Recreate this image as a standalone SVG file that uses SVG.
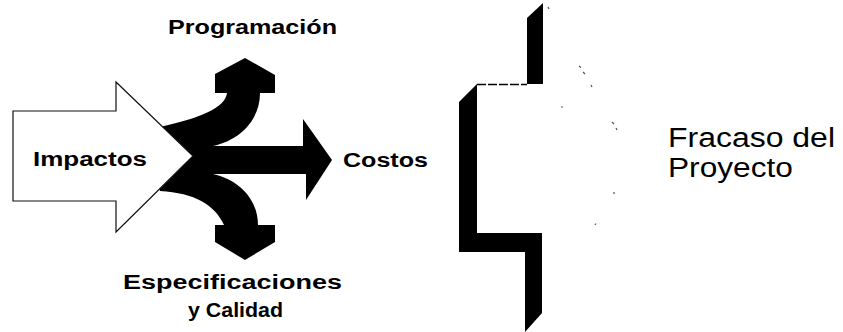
<svg xmlns="http://www.w3.org/2000/svg" width="843" height="332" viewBox="0 0 843 332">
  <style>
    .lbl { font-family: "Liberation Sans", Arial, sans-serif; font-weight: bold; font-size: 20px; fill: #000; }
    .big { font-family: "Liberation Sans", Arial, sans-serif; font-size: 27px; fill: #000; }
    .blk { fill: #000; stroke: none; }
    .speck { stroke: #555; stroke-width: 1.2; fill: none; }
  </style>
  <rect width="843" height="332" fill="#fff"/>

  <g id="connectors">
    <path id="split-arrows" class="blk" d="M160,127 C200,118 225,108 227,93 L215,93 L215,74 L245,58 L275,75 L275,93 L260,93 C260,120 240,140 213,146 L303,146 L303,119 L332,160 L306,200 L306,174 L213,174 C240,180 258,200 258,225 L275,225 L275,242 L245,260 L215,242 L215,225 L224,225 C215,205 195,193 160,191 L150,160 Z"/>
  </g>

  <g id="impactos">
    <path d="M13,111 L116,111 L116,82 L193,156 L116,232 L116,201 L13,201 Z" fill="#fff" stroke="#111" stroke-width="1.2"/>
    <text class="lbl" x="33" y="166" font-size="21" textLength="114" lengthAdjust="spacingAndGlyphs">Impactos</text>
  </g>

  <g id="programacion">
    <text class="lbl" x="168" y="34" font-size="19" textLength="169" lengthAdjust="spacingAndGlyphs">Programación</text>
  </g>

  <g id="costos">
    <text class="lbl" x="343" y="167" font-size="21" textLength="85" lengthAdjust="spacingAndGlyphs">Costos</text>
  </g>

  <g id="especificaciones">
    <text class="lbl" x="123" y="289" font-size="21" textLength="219" lengthAdjust="spacingAndGlyphs">Especificaciones</text>
    <text class="lbl" x="188" y="317" font-size="21" textLength="95" lengthAdjust="spacingAndGlyphs">y Calidad</text>
  </g>

  <g id="muro">
    <path class="blk" d="M527,18 L543,3 L543,84 L527,84 Z"/>
    <line x1="477" y1="84.5" x2="527" y2="84.5" stroke="#000" stroke-width="1.5" stroke-dasharray="9 2"/>
    <path class="blk" d="M459,102 L477,84 L477,233 L542,233 L542,313 L525,332 L525,252 L459,252 Z"/>
    <path class="speck" d="M548,7 l1,2 M579,66 l2,1.5 M583,72 l2,2 M591,85 l1,2 M561,107 h2 M612,122 l2,2 M616,128 l1,2 M614,192 v2 M595,225 l1,-1.5"/>
  </g>

  <g id="fracaso">
    <text class="big" x="668" y="147" textLength="167" lengthAdjust="spacingAndGlyphs">Fracaso del</text>
    <text class="big" x="668" y="177" textLength="125" lengthAdjust="spacingAndGlyphs">Proyecto</text>
  </g>
</svg>
